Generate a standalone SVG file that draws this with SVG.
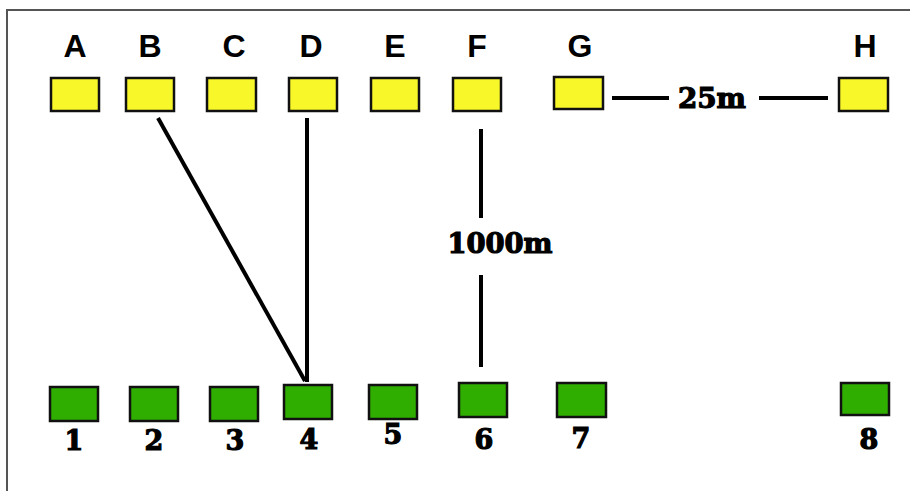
<svg xmlns="http://www.w3.org/2000/svg" width="910" height="491" viewBox="0 0 910 491">
<style>
.y{fill:#f7f72a;stroke:#111;stroke-width:2.5}
.g{fill:#2fae00;stroke:#111;stroke-width:2.5}
.L{font-family:"Liberation Sans",Arial,sans-serif;font-weight:bold;font-size:32px;fill:#000;text-anchor:middle}
.N{font-family:"DejaVu Serif","Liberation Serif",serif;font-weight:900;font-size:27px;fill:#000;stroke:#000;stroke-width:1.2;text-anchor:middle}
.c{stroke:#000;stroke-width:4;fill:none}
</style>
<rect x="0" y="0" width="910" height="491" fill="#fff"/>
<path d="M7 491 V10 H910" fill="none" stroke="#555" stroke-width="2"/>
<g id="A"><rect class="y" x="51" y="78" width="48" height="33"/><text class="L" x="75" y="57">A</text></g>
<g id="B"><rect class="y" x="126" y="78" width="48" height="33"/><text class="L" x="150" y="57">B</text></g>
<g id="C"><rect class="y" x="207" y="78" width="49" height="33"/><text class="L" x="234" y="57">C</text></g>
<g id="D"><rect class="y" x="289" y="78" width="48" height="33"/><text class="L" x="311" y="57">D</text></g>
<g id="E"><rect class="y" x="371" y="78" width="48" height="33"/><text class="L" x="395" y="57">E</text></g>
<g id="F"><rect class="y" x="453" y="78" width="48" height="33"/><text class="L" x="477" y="57">F</text></g>
<g id="G"><rect class="y" x="554" y="77" width="49" height="32"/><text class="L" x="580" y="57">G</text></g>
<g id="H"><rect class="y" x="839" y="78" width="49" height="33"/><text class="L" x="865" y="57">H</text></g>
<g id="n1"><rect class="g" x="50" y="387" width="48" height="34"/><text class="N" x="74" y="450">1</text></g>
<g id="n2"><rect class="g" x="130" y="387" width="48" height="34"/><text class="N" x="154" y="450">2</text></g>
<g id="n3"><rect class="g" x="210" y="387" width="48" height="34"/><text class="N" x="235" y="450">3</text></g>
<g id="n4"><rect class="g" x="284" y="385" width="48" height="34"/><text class="N" x="309" y="449">4</text></g>
<g id="n5"><rect class="g" x="369" y="385" width="48" height="34"/><text class="N" x="393" y="444">5</text></g>
<g id="n6"><rect class="g" x="459" y="383" width="48" height="34"/><text class="N" x="484" y="449">6</text></g>
<g id="n7"><rect class="g" x="557" y="383" width="49" height="34"/><text class="N" x="581" y="448">7</text></g>
<g id="n8"><rect class="g" x="841" y="383" width="48" height="32"/><text class="N" x="869" y="449">8</text></g>
<g id="connectors">
<line class="c" x1="158" y1="118" x2="305" y2="381"/>
<line class="c" x1="307" y1="118" x2="307" y2="382"/>
<line class="c" x1="481" y1="129" x2="481" y2="218"/>
<line class="c" x1="481" y1="275" x2="481" y2="367"/>
<line class="c" x1="612" y1="98" x2="669" y2="98"/>
<line class="c" x1="759" y1="98" x2="828" y2="98"/>
<text class="N" x="500" y="253" textLength="105" lengthAdjust="spacingAndGlyphs">1000m</text>
<text class="N" x="712" y="108" textLength="68" lengthAdjust="spacingAndGlyphs">25m</text>
</g>
</svg>
